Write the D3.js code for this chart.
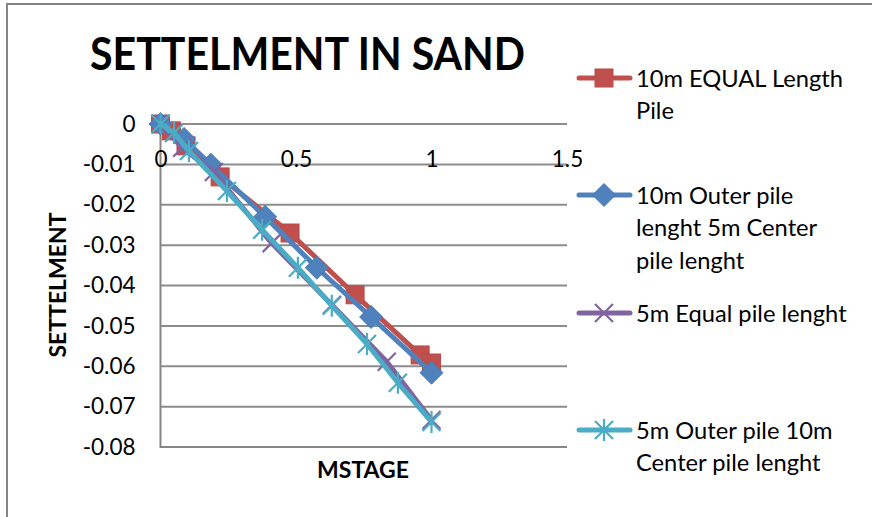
<!DOCTYPE html>
<html>
<head>
<meta charset="utf-8">
<script src="https://cdn.jsdelivr.net/npm/d3@7"></script>
<style>
  html, body { margin: 0; padding: 0; background: #fff; }
  svg { display: block; font-family: Lato, "Open Sans", sans-serif; }
</style>
</head>
<body>
<svg id="chart" width="872" height="517"></svg>
<script>
// Series: MSTAGE (x) against settlement (y)
const xEqual10 = [0, 0.04, 0.094, 0.22, 0.478, 0.718, 0.958, 1.0];
const yEqual10 = [0, -0.0017, -0.0054, -0.0131, -0.027, -0.0423, -0.0572, -0.0592];

const xOuter10 = [0, 0.087, 0.186, 0.386, 0.577, 0.777, 1.0];
const yOuter10 = [0, -0.0037, -0.0101, -0.023, -0.0356, -0.0478, -0.0616];

const xEqual5 = [0, 0.08, 0.197, 0.41, 0.633, 0.835, 1.0];
const yEqual5 = [0, -0.0059, -0.0119, -0.0295, -0.0448, -0.0589, -0.0733];

const xOuter5 = [0, 0.05, 0.105, 0.245, 0.375, 0.507, 0.632, 0.762, 0.876, 1.0];
const yOuter5 = [0, -0.0022, -0.0067, -0.0166, -0.0262, -0.0356, -0.045, -0.0545, -0.0641, -0.0738];

const seriesNames = [
  ["10m EQUAL Length", "Pile"],
  ["10m Outer pile", "lenght 5m Center", "pile lenght"],
  ["5m Equal pile lenght"],
  ["5m Outer pile 10m", "Center pile lenght"]
];

const xTicks = [0, 0.5, 1, 1.5];
const yTicks = [0, -0.01, -0.02, -0.03, -0.04, -0.05, -0.06, -0.07, -0.08];

const titleText = "SETTELMENT IN SAND";
const xTitle = "MSTAGE";
const yTitle = "SETTELMENT";

const colors = ["#C0504D", "#4F81BD", "#8064A2", "#4BACC6"];
const markers = ["square", "diamond", "x", "star"];

const series = [
  { xs: xEqual10, ys: yEqual10 },
  { xs: xOuter10, ys: yOuter10 },
  { xs: xEqual5, ys: yEqual5 },
  { xs: xOuter5, ys: yOuter5 }
].map((s, i) => ({
  name: seriesNames[i],
  color: colors[i],
  marker: markers[i],
  points: s.xs.map((x, j) => ({ x, y: s.ys[j] }))
}));

const svg = d3.select("#chart");

// Chart area border
svg.append("rect")
  .attr("x", 7).attr("y", 4)
  .attr("width", 900).attr("height", 560)
  .attr("fill", "#fff")
  .attr("stroke", "#868686")
  .attr("stroke-width", 2);

const x = d3.scaleLinear().domain([0, 1.5]).range([160.5, 567]);
const y = d3.scaleLinear().domain([-0.08, 0]).range([447, 124]);

// Horizontal gridlines
svg.append("g")
  .selectAll("line")
  .data(yTicks)
  .join("line")
  .attr("x1", x(0)).attr("x2", x(1.5))
  .attr("y1", d => y(d)).attr("y2", d => y(d))
  .attr("stroke", "#8c8c8c")
  .attr("stroke-width", 2);

// Plot frame: left and bottom edges
svg.append("path")
  .attr("d", `M${x(0)},${y(0)}V${y(-0.08)}H${x(1.5)}`)
  .attr("fill", "none")
  .attr("stroke", "#868686")
  .attr("stroke-width", 2);

// Y axis labels
const yAxis = svg.append("g")
  .attr("transform", `translate(${x(0)},0)`)
  .call(d3.axisLeft(y).tickValues(yTicks).tickSize(0).tickPadding(25)
    .tickFormat(d => d === 0 ? "0" : d3.format(".2f")(d).replace("−", "-")));
yAxis.select(".domain").remove();
yAxis.selectAll("text")
  .attr("font-family", "Lato, sans-serif")
  .attr("font-size", 22.5)
  .attr("fill", "#000");

// X axis labels (axis crosses at settlement 0)
const xAxis = svg.append("g")
  .attr("transform", `translate(0,${y(0)})`)
  .call(d3.axisBottom(x).tickValues(xTicks).tickSize(0).tickPadding(27)
    .tickFormat(d3.format("")));
xAxis.select(".domain").remove();
xAxis.selectAll("text")
  .attr("font-family", "Lato, sans-serif")
  .attr("font-size", 22.5)
  .attr("fill", "#000");

// Marker shapes
function drawMarker(g, type, color) {
  if (type === "square") {
    g.append("rect").attr("x", -9).attr("y", -9).attr("width", 18).attr("height", 18)
      .attr("fill", color).attr("stroke", "#b94a47").attr("stroke-width", 1);
  } else if (type === "diamond") {
    g.append("path").attr("d", "M0,-11.5L11.5,0L0,11.5L-11.5,0Z")
      .attr("fill", color).attr("stroke", "#4a7ab3").attr("stroke-width", 1);
  } else if (type === "x") {
    g.append("path").attr("d", "M-9,-9L9,9M-9,9L9,-9")
      .attr("stroke", color).attr("stroke-width", 2.2).attr("fill", "none");
  } else if (type === "star") {
    g.append("path").attr("d", "M-9,-9L9,9M-9,9L9,-9M0,-11V11")
      .attr("stroke", color).attr("stroke-width", 2.2).attr("fill", "none");
  }
}

const line = d3.line().x(d => x(d.x)).y(d => y(d.y));

series.forEach(s => {
  const g = svg.append("g");
  g.append("path")
    .datum(s.points)
    .attr("d", line)
    .attr("fill", "none")
    .attr("stroke", s.color)
    .attr("stroke-width", 5)
    .attr("stroke-linejoin", "round")
    .attr("stroke-linecap", "round");
  g.selectAll("g.m")
    .data(s.points)
    .join("g")
    .attr("class", "m")
    .attr("transform", d => `translate(${x(d.x)},${y(d.y)})`)
    .each(function () { drawMarker(d3.select(this), s.marker, s.color); });
});

// Title
svg.append("text")
  .attr("x", 90).attr("y", 70)
  .attr("font-family", "Lato, sans-serif")
  .attr("font-weight", "bold")
  .attr("font-size", 45)
  .attr("textLength", 435)
  .attr("lengthAdjust", "spacingAndGlyphs")
  .attr("fill", "#000")
  .text(titleText);

// Axis titles
svg.append("text")
  .attr("x", 363).attr("y", 478)
  .attr("text-anchor", "middle")
  .attr("font-family", "Lato, sans-serif")
  .attr("font-weight", "bold")
  .attr("font-size", 23)
  .attr("fill", "#000")
  .text(xTitle);

svg.append("text")
  .attr("transform", `translate(66,285) rotate(-90)`)
  .attr("text-anchor", "middle")
  .attr("font-family", "Lato, sans-serif")
  .attr("font-weight", "bold")
  .attr("font-size", 23)
  .attr("fill", "#000")
  .text(yTitle);

// Legend
const legendY = [78, 195, 313, 430];
series.forEach((s, i) => {
  const g = svg.append("g").attr("transform", `translate(0,${legendY[i]})`);
  g.append("line")
    .attr("x1", 579).attr("x2", 630).attr("y1", 0).attr("y2", 0)
    .attr("stroke", s.color).attr("stroke-width", 5).attr("stroke-linecap", "round");
  const mg = g.append("g").attr("transform", "translate(604,0)");
  drawMarker(mg, s.marker, s.color);
  s.name.forEach((t, k) => {
    g.append("text")
      .attr("x", 636).attr("y", k * 32.5)
      .attr("dy", "0.36em")
      .attr("font-family", "Lato, sans-serif")
      .attr("font-size", 23.7)
      .attr("fill", "#000")
      .text(t);
  });
});
</script>
</body>
</html>
